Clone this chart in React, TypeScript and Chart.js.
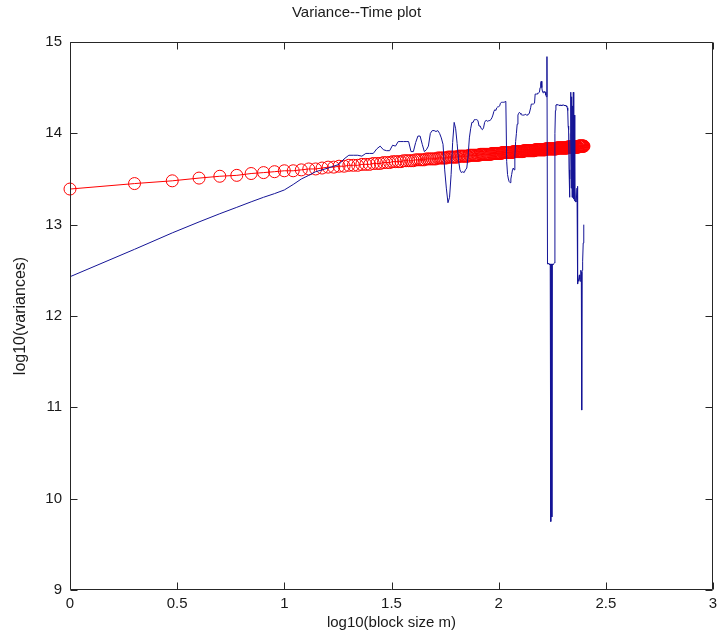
import React, { useEffect, useRef } from 'react';
import { Chart, registerables } from 'chart.js';

Chart.register(...registerables);

const titleText = 'Variance--Time plot';
const xAxisTitle = 'log10(block size m)';
const yAxisTitle = 'log10(variances)';

// x tick labels are log10 values of the block size
const xTickLabels = [0, 0.5, 1, 1.5, 2, 2.5, 3];
const yTickLabels = [9, 10, 11, 12, 13, 14, 15];

const blockSizes = [
  1, 2, 3, 4, 5, 6, 7, 8, 9, 10,
  11, 12, 13, 14, 15, 16, 17, 18, 19, 20,
  21, 22, 23, 24, 25, 26, 27, 28, 29, 30,
  31, 32, 33, 34, 35, 36, 37, 38, 39, 40,
  41, 42, 43, 44, 45, 46, 47, 48, 49, 50,
  51, 52, 53, 54, 55, 56, 57, 58, 59, 60,
  61, 62, 63, 64, 65, 66, 67, 68, 69, 70,
  71, 72, 73, 74, 75, 76, 77, 78, 79, 80,
  81, 82, 83, 84, 85, 86, 87, 88, 89, 90,
  91, 92, 93, 94, 95, 96, 97, 98, 99, 100,
  101, 102, 103, 104, 105, 106, 107, 108, 109, 110,
  111, 112, 113, 114, 115, 116, 117, 118, 119, 120,
  121, 122, 123, 124, 125, 126, 127, 128, 129, 130,
  131, 132, 133, 134, 135, 136, 137, 138, 139, 140,
  141, 142, 143, 144, 145, 146, 147, 148, 149, 150,
  151, 152, 153, 154, 155, 156, 157, 158, 159, 160,
  161, 162, 163, 164, 165, 166, 167, 168, 169, 170,
  171, 172, 173, 174, 175, 176, 177, 178, 179, 180,
  181, 182, 183, 184, 185, 186, 187, 188, 189, 190,
  191, 192, 193, 194, 195, 196, 197, 198, 199, 200,
  201, 202, 203, 204, 205, 206, 207, 208, 209, 210,
  211, 212, 213, 214, 215, 216, 217, 218, 219, 220,
  221, 222, 223, 224, 225, 226, 227, 228, 229, 230,
  231, 232, 233, 234, 235, 236, 237, 238, 239, 240,
  241, 242, 243, 244, 245, 246, 247, 248, 249, 250,
];

// log10(variance) measured for each block size (blue)
const logVariances = [
  12.43, 12.73, 12.91, 13.03, 13.12, 13.19, 13.25, 13.30, 13.34, 13.38,
  13.44, 13.50, 13.54, 13.58, 13.60, 13.62, 13.64, 13.66, 13.72, 13.76,
  13.76, 13.76, 13.75, 13.78, 13.78, 13.78, 13.83, 13.86, 13.82, 13.81,
  13.81, 13.87, 13.86, 13.91, 13.91, 13.91, 13.91, 13.91, 13.80, 13.80,
  13.90, 13.97, 13.97, 13.88, 13.80, 13.82, 13.86, 14.00, 14.03, 14.03,
  14.02, 14.03, 14.00, 13.95, 13.88, 13.60, 13.40, 13.24, 13.30, 13.55,
  13.90, 14.12, 14.05, 13.89, 13.70, 13.60, 13.57, 13.58, 13.57, 13.60,
  13.62, 13.75, 13.95, 14.05, 14.12, 14.12, 14.15, 14.15, 14.15, 14.14,
  14.08, 14.08, 14.05, 14.04, 14.06, 14.12, 14.14, 14.14, 14.13, 14.14,
  14.14, 14.15, 14.17, 14.20, 14.24, 14.26, 14.25, 14.28, 14.29, 14.29,
  14.30, 14.33, 14.34, 14.34, 14.34, 14.34, 14.34, 14.35, 13.69, 13.55,
  13.50, 13.47, 13.46, 13.50, 13.55, 13.60, 13.62, 13.60, 13.75, 13.91,
  14.00, 14.10, 14.20, 14.22, 14.23, 14.22, 14.21, 14.20, 14.20, 14.20,
  14.20, 14.20, 14.21, 14.21, 14.20, 14.20, 14.21, 14.21, 14.22, 14.22,
  14.28, 14.32, 14.32, 14.32, 14.32, 14.32, 14.33, 14.43, 14.43, 14.43,
  14.43, 14.44, 14.44, 14.44, 14.45, 14.50, 14.55, 14.57, 14.50, 14.46,
  14.45, 14.44, 14.45, 14.46, 14.45, 14.42, 14.40, 14.84, 12.57, 12.57,
  12.58, 12.57, 12.56, 12.57, 9.75, 12.57, 9.80, 12.57, 12.56, 12.57,
  12.57, 12.58, 14.00, 14.25, 14.31, 14.31, 14.32, 14.31, 14.31, 14.31,
  14.31, 14.31, 14.30, 14.31, 14.31, 14.31, 14.30, 14.31, 14.31, 14.31,
  14.31, 14.31, 14.30, 14.31, 14.31, 14.30, 14.30, 14.29, 14.28, 14.25,
  14.08, 14.04, 13.60, 13.30, 13.50, 14.00, 14.45, 13.40, 14.40, 13.30,
  14.30, 13.30, 14.45, 13.28, 14.20, 13.26, 13.40, 13.25, 13.26, 13.25,
  13.25, 13.40, 13.42, 12.35, 12.40, 12.38, 12.42, 12.45, 12.40, 12.38,
  12.45, 12.50, 12.48, 10.97, 12.50, 12.55, 12.60, 12.80, 12.95, 13.00,
];

// fitted log10(variance) for each block size (red circles)
const logFit = [
  13.39, 13.45, 13.48, 13.51, 13.53, 13.54, 13.56, 13.57, 13.58, 13.59,
  13.59, 13.60, 13.61, 13.61, 13.62, 13.63, 13.63, 13.64, 13.64, 13.65,
  13.65, 13.65, 13.66, 13.66, 13.66, 13.67, 13.67, 13.67, 13.68, 13.68,
  13.68, 13.69, 13.69, 13.69, 13.69, 13.70, 13.70, 13.70, 13.70, 13.70,
  13.71, 13.71, 13.71, 13.71, 13.71, 13.72, 13.72, 13.72, 13.72, 13.72,
  13.72, 13.73, 13.73, 13.73, 13.73, 13.73, 13.73, 13.74, 13.74, 13.74,
  13.74, 13.74, 13.74, 13.74, 13.75, 13.75, 13.75, 13.75, 13.75, 13.75,
  13.75, 13.75, 13.76, 13.76, 13.76, 13.76, 13.76, 13.76, 13.76, 13.76,
  13.76, 13.77, 13.77, 13.77, 13.77, 13.77, 13.77, 13.77, 13.77, 13.77,
  13.77, 13.77, 13.78, 13.78, 13.78, 13.78, 13.78, 13.78, 13.78, 13.78,
  13.78, 13.78, 13.78, 13.79, 13.79, 13.79, 13.79, 13.79, 13.79, 13.79,
  13.79, 13.79, 13.79, 13.79, 13.79, 13.79, 13.80, 13.80, 13.80, 13.80,
  13.80, 13.80, 13.80, 13.80, 13.80, 13.80, 13.80, 13.80, 13.80, 13.80,
  13.81, 13.81, 13.81, 13.81, 13.81, 13.81, 13.81, 13.81, 13.81, 13.81,
  13.81, 13.81, 13.81, 13.81, 13.81, 13.81, 13.81, 13.82, 13.82, 13.82,
  13.82, 13.82, 13.82, 13.82, 13.82, 13.82, 13.82, 13.82, 13.82, 13.82,
  13.82, 13.82, 13.82, 13.82, 13.82, 13.83, 13.83, 13.83, 13.83, 13.83,
  13.83, 13.83, 13.83, 13.83, 13.83, 13.83, 13.83, 13.83, 13.83, 13.83,
  13.83, 13.83, 13.83, 13.83, 13.83, 13.83, 13.84, 13.84, 13.84, 13.84,
  13.84, 13.84, 13.84, 13.84, 13.84, 13.84, 13.84, 13.84, 13.84, 13.84,
  13.84, 13.84, 13.84, 13.84, 13.84, 13.84, 13.84, 13.84, 13.84, 13.85,
  13.85, 13.85, 13.85, 13.85, 13.85, 13.85, 13.85, 13.85, 13.85, 13.85,
  13.85, 13.85, 13.85, 13.85, 13.85, 13.85, 13.85, 13.85, 13.85, 13.85,
  13.85, 13.85, 13.85, 13.85, 13.85, 13.86, 13.86, 13.86, 13.86, 13.86,
  13.86, 13.86, 13.86, 13.86, 13.86, 13.86, 13.86, 13.86, 13.86, 13.86,
];

const FONT = "'Liberation Sans', Arial, sans-serif";
const TEXT = '#1a1a1a';
const FRAME = '#262626';

const framePlugin = {
  id: 'matlabFrame',
  afterDatasetsDraw(chart: any) {
    const { ctx, chartArea: a, scales } = chart;
    const L = Math.round(a.left) + 0.5;
    const R = Math.round(a.right) - 0.5;
    const T = Math.round(a.top) + 0.5;
    const B = Math.round(a.bottom) - 0.5;
    const len = 7;
    ctx.save();
    ctx.strokeStyle = FRAME;
    ctx.lineWidth = 1;
    ctx.beginPath();
    ctx.rect(L, T, R - L, B - T);
    scales.x.ticks.forEach((t: any) => {
      const px = Math.round(scales.x.getPixelForValue(t.value)) + 0.5;
      ctx.moveTo(px, B);
      ctx.lineTo(px, B - len);
      ctx.moveTo(px, T);
      ctx.lineTo(px, T + len);
    });
    scales.y.ticks.forEach((t: any) => {
      const py = Math.round(scales.y.getPixelForValue(t.value)) + 0.5;
      ctx.moveTo(L, py);
      ctx.lineTo(L + len, py);
      ctx.moveTo(R, py);
      ctx.lineTo(R - len, py);
    });
    ctx.stroke();
    ctx.restore();
  },
};

export default function App() {
  const ref = useRef<HTMLCanvasElement>(null);

  useEffect(() => {
    if (!ref.current) return;
    const chart = new Chart(ref.current, {
      type: 'line',
      data: {
        datasets: [
          {
            label: 'variance',
            data: blockSizes.map((m, i) => ({ x: m, y: logVariances[i] })),
            borderColor: 'rgb(20,20,150)',
            borderWidth: 1,
            pointRadius: 0,
            tension: 0,
            clip: false,
          },
          {
            label: 'fit',
            data: blockSizes.map((m, i) => ({ x: m, y: logFit[i] })),
            borderColor: '#ff0000',
            borderWidth: 1,
            pointRadius: 6,
            pointBorderWidth: 1,
            pointBorderColor: '#ff0000',
            pointBackgroundColor: 'rgba(255,255,255,0)',
            tension: 0,
            clip: false,
          },
        ],
      },
      options: {
        responsive: false,
        animation: false,
        events: [],
        layout: { padding: { left: 0, right: 8, top: 0, bottom: 0 } },
        plugins: {
          legend: { display: false },
          tooltip: { enabled: false },
          title: {
            display: true,
            text: titleText,
            color: TEXT,
            font: { family: FONT, size: 15, weight: 'normal', lineHeight: 1.2 },
            padding: { top: 4, bottom: 20 },
          },
        },
        scales: {
          x: {
            type: 'logarithmic',
            min: 1,
            max: 1000,
            grid: { display: false, drawTicks: false },
            border: { display: false },
            afterBuildTicks: (s: any) => {
              s.ticks = xTickLabels.map((t) => ({ value: Math.pow(10, t) }));
            },
            afterFit: (s: any) => {
              s.height = 45;
              s.paddingLeft = 0;
              s.paddingRight = 0;
            },
            ticks: {
              autoSkip: false,
              maxRotation: 0,
              padding: 5,
              color: TEXT,
              font: { family: FONT, size: 15 },
              callback: (_v: any, i: number) => String(xTickLabels[i]),
            },
            title: {
              display: true,
              text: xAxisTitle,
              color: TEXT,
              font: { family: FONT, size: 15, lineHeight: 1.2 },
              padding: { top: 0, bottom: 3 },
            },
          },
          y: {
            type: 'linear',
            min: 9,
            max: 15,
            grid: { display: false, drawTicks: false },
            border: { display: false },
            afterBuildTicks: (s: any) => {
              s.ticks = yTickLabels.map((v) => ({ value: v }));
            },
            afterFit: (s: any) => {
              s.width = 70;
              s.paddingTop = 0;
              s.paddingBottom = 0;
            },
            ticks: {
              padding: 8,
              color: TEXT,
              font: { family: FONT, size: 15 },
              callback: (v: any) => String(v),
            },
            title: {
              display: true,
              text: yAxisTitle,
              color: TEXT,
              font: { family: FONT, size: 16, lineHeight: 1.2 },
              padding: { top: 11, bottom: 0 },
            },
          },
        },
      },
      plugins: [framePlugin],
    } as any);
    return () => chart.destroy();
  }, []);

  return (
    <div style={{ position: 'absolute', left: 0, top: 0, width: 721, height: 635, background: '#fff' }}>
      <canvas ref={ref} width={721} height={635} style={{ display: 'block' }} />
    </div>
  );
}
